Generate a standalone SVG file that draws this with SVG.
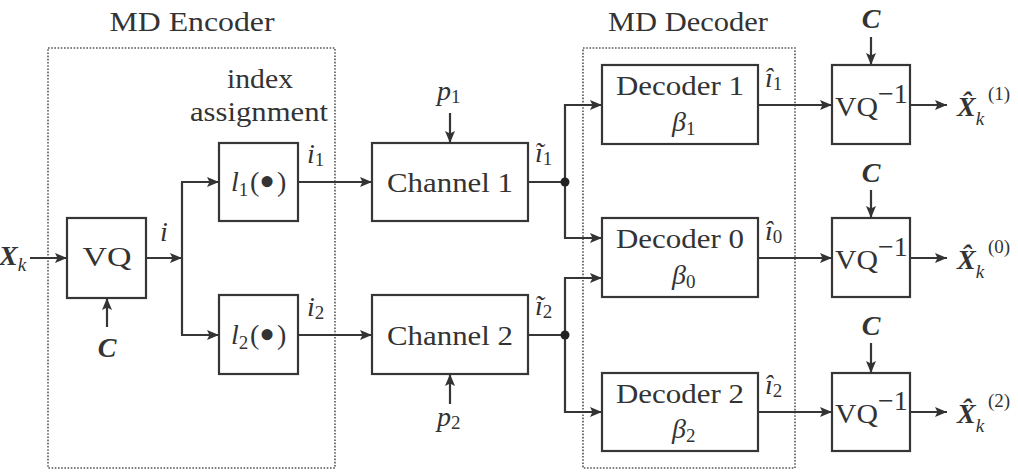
<svg xmlns="http://www.w3.org/2000/svg" width="1018" height="476" viewBox="0 0 1018 476">
<defs>
<style>
.box{fill:none;stroke:#363636;stroke-width:2.2}
.dot{fill:none;stroke:#555;stroke-width:1.6;stroke-dasharray:1.6 1.6}
.ln{fill:none;stroke:#363636;stroke-width:2.2}
.ar{fill:none;stroke:#363636;stroke-width:2.2;marker-end:url(#ah)}
text{font-family:'Liberation Serif','DejaVu Serif',serif;fill:#333;font-size:28px}
.it{font-style:italic}
.bi{font-style:italic;font-weight:bold}
.sub{font-size:19px;font-style:normal;font-weight:normal}
.subi{font-size:19px;font-style:italic;font-weight:normal}
.c{text-anchor:middle}
.bul{font-size:46px}
</style>
<marker id="ah" viewBox="0 0 12 10" refX="12" refY="5" markerWidth="12" markerHeight="10" markerUnits="userSpaceOnUse" orient="auto">
<path d="M0,0 L12,5 L0,10 L2.5,5 Z" fill="#333"/>
</marker>
</defs>
<rect width="1018" height="476" fill="#fff"/>

<g id="md-encoder">
<rect class="dot" x="48" y="48" width="287" height="420"/>
<text x="192" y="31" class="c" textLength="165" lengthAdjust="spacingAndGlyphs">MD Encoder</text>
<text x="260" y="88" class="c" textLength="66" lengthAdjust="spacingAndGlyphs">index</text>
<text x="259" y="121" class="c" textLength="138" lengthAdjust="spacingAndGlyphs">assignment</text>
</g>
<g id="md-decoder">
<rect class="dot" x="583" y="48" width="212" height="420"/>
<text x="688" y="31" class="c" textLength="160" lengthAdjust="spacingAndGlyphs">MD Decoder</text>
</g>

<g id="vq">
<rect class="box" x="67" y="218" width="79" height="80"/>
<text x="107" y="266" class="c" textLength="49" lengthAdjust="spacingAndGlyphs">VQ</text>
</g>
<g id="l1">
<rect class="box" x="219" y="143" width="79" height="78"/>
<text x="231" y="191"><tspan class="it">l</tspan><tspan class="sub" dy="5">1</tspan><tspan x="250" dy="-5">(</tspan><tspan x="259" class="bul" dy="6">•</tspan><tspan x="277" dy="-6">)</tspan></text>
</g>
<g id="l2">
<rect class="box" x="219" y="295" width="79" height="79"/>
<text x="231" y="344"><tspan class="it">l</tspan><tspan class="sub" dy="5">2</tspan><tspan x="250" dy="-5">(</tspan><tspan x="259" class="bul" dy="6">•</tspan><tspan x="277" dy="-6">)</tspan></text>
</g>
<g id="channel1">
<rect class="box" x="372" y="143" width="156" height="78"/>
<text x="450" y="192" class="c" textLength="126" lengthAdjust="spacingAndGlyphs">Channel 1</text>
</g>
<g id="channel2">
<rect class="box" x="372" y="295" width="156" height="79"/>
<text x="450" y="345" class="c" textLength="126" lengthAdjust="spacingAndGlyphs">Channel 2</text>
</g>
<g id="decoder1">
<rect class="box" x="602" y="65" width="156" height="79"/>
<text x="680" y="95" class="c" textLength="128" lengthAdjust="spacingAndGlyphs">Decoder 1</text>
<text x="672" y="131"><tspan class="it">β</tspan><tspan class="sub" dy="4">1</tspan></text>
</g>
<g id="decoder0">
<rect class="box" x="602" y="218" width="156" height="79"/>
<text x="680" y="248" class="c" textLength="128" lengthAdjust="spacingAndGlyphs">Decoder 0</text>
<text x="672" y="284"><tspan class="it">β</tspan><tspan class="sub" dy="4">0</tspan></text>
</g>
<g id="decoder2">
<rect class="box" x="602" y="373" width="156" height="78"/>
<text x="680" y="403" class="c" textLength="128" lengthAdjust="spacingAndGlyphs">Decoder 2</text>
<text x="672" y="438"><tspan class="it">β</tspan><tspan class="sub" dy="4">2</tspan></text>
</g>
<g id="ivq1">
<rect class="box" x="832" y="65" width="78" height="79"/>
<text x="835" y="116" textLength="43" lengthAdjust="spacingAndGlyphs">VQ</text>
<text x="878" y="103" font-size="19">−1</text>
</g>
<g id="ivq0">
<rect class="box" x="832" y="218" width="78" height="79"/>
<text x="835" y="269" textLength="43" lengthAdjust="spacingAndGlyphs">VQ</text>
<text x="878" y="256" font-size="19">−1</text>
</g>
<g id="ivq2">
<rect class="box" x="832" y="373" width="78" height="78"/>
<text x="835" y="423" textLength="43" lengthAdjust="spacingAndGlyphs">VQ</text>
<text x="878" y="410" font-size="19">−1</text>
</g>

<g id="connectors">
<line class="ar" x1="30" y1="258" x2="67" y2="258"/>
<line class="ar" x1="146" y1="258" x2="182" y2="258"/>
<polyline class="ln" points="182,182 182,335"/>
<line class="ar" x1="181" y1="182" x2="219" y2="182"/>
<line class="ar" x1="181" y1="335" x2="219" y2="335"/>
<line class="ar" x1="107" y1="327" x2="107" y2="298"/>
<line class="ar" x1="298" y1="182" x2="372" y2="182"/>
<line class="ar" x1="298" y1="335" x2="372" y2="335"/>
<line class="ar" x1="450" y1="113" x2="450" y2="143"/>
<line class="ar" x1="450" y1="404" x2="450" y2="374"/>
<line class="ln" x1="528" y1="182" x2="565" y2="182"/>
<line class="ln" x1="528" y1="335" x2="565" y2="335"/>
<polyline class="ar" points="565,182 565,105 602,105"/>
<polyline class="ar" points="565,182 565,238 602,238"/>
<polyline class="ar" points="565,335 565,278 602,278"/>
<polyline class="ar" points="565,335 565,412 602,412"/>
<circle cx="565" cy="182" r="4.5" fill="#222"/>
<circle cx="565" cy="335" r="4.5" fill="#222"/>
<line class="ar" x1="758" y1="105" x2="832" y2="105"/>
<line class="ar" x1="758" y1="258" x2="832" y2="258"/>
<line class="ar" x1="758" y1="412" x2="832" y2="412"/>
<line class="ar" x1="910" y1="105" x2="947" y2="105"/>
<line class="ar" x1="910" y1="258" x2="947" y2="258"/>
<line class="ar" x1="910" y1="412" x2="947" y2="412"/>
<line class="ar" x1="871" y1="37" x2="871" y2="65"/>
<line class="ar" x1="871" y1="190" x2="871" y2="218"/>
<line class="ar" x1="871" y1="343" x2="871" y2="373"/>
</g>

<g id="labels">
<text x="-1" y="265"><tspan class="bi">X</tspan><tspan class="subi" dy="6">k</tspan></text>
<text x="160" y="241" class="it">i</text>
<text x="107" y="357" class="bi c">C</text>
<text x="307" y="163"><tspan class="it">i</tspan><tspan class="sub" dy="3">1</tspan></text>
<text x="307" y="316"><tspan class="it">i</tspan><tspan class="sub" dy="3">2</tspan></text>
<text x="437" y="100"><tspan class="it">p</tspan><tspan class="sub" dy="3">1</tspan></text>
<text x="437" y="426"><tspan class="it">p</tspan><tspan class="sub" dy="3">2</tspan></text>
<text x="535" y="162"><tspan class="it">ĩ</tspan><tspan class="sub" dy="3">1</tspan></text>
<text x="535" y="315"><tspan class="it">ĩ</tspan><tspan class="sub" dy="3">2</tspan></text>
<text x="765" y="87"><tspan class="it">î</tspan><tspan class="sub" dy="3">1</tspan></text>
<text x="765" y="240"><tspan class="it">î</tspan><tspan class="sub" dy="3">0</tspan></text>
<text x="765" y="394"><tspan class="it">î</tspan><tspan class="sub" dy="3">2</tspan></text>
<text x="871" y="28" class="bi c">C</text>
<text x="871" y="182" class="bi c">C</text>
<text x="871" y="335" class="bi c">C</text>
<text x="957" y="116"><tspan class="bi">X̂</tspan><tspan class="subi" dy="9">k</tspan><tspan class="sub" x="988" y="100">(1)</tspan></text>
<text x="957" y="269"><tspan class="bi">X̂</tspan><tspan class="subi" dy="9">k</tspan><tspan class="sub" x="988" y="253">(0)</tspan></text>
<text x="957" y="423"><tspan class="bi">X̂</tspan><tspan class="subi" dy="9">k</tspan><tspan class="sub" x="988" y="407">(2)</tspan></text>
</g>
</svg>
